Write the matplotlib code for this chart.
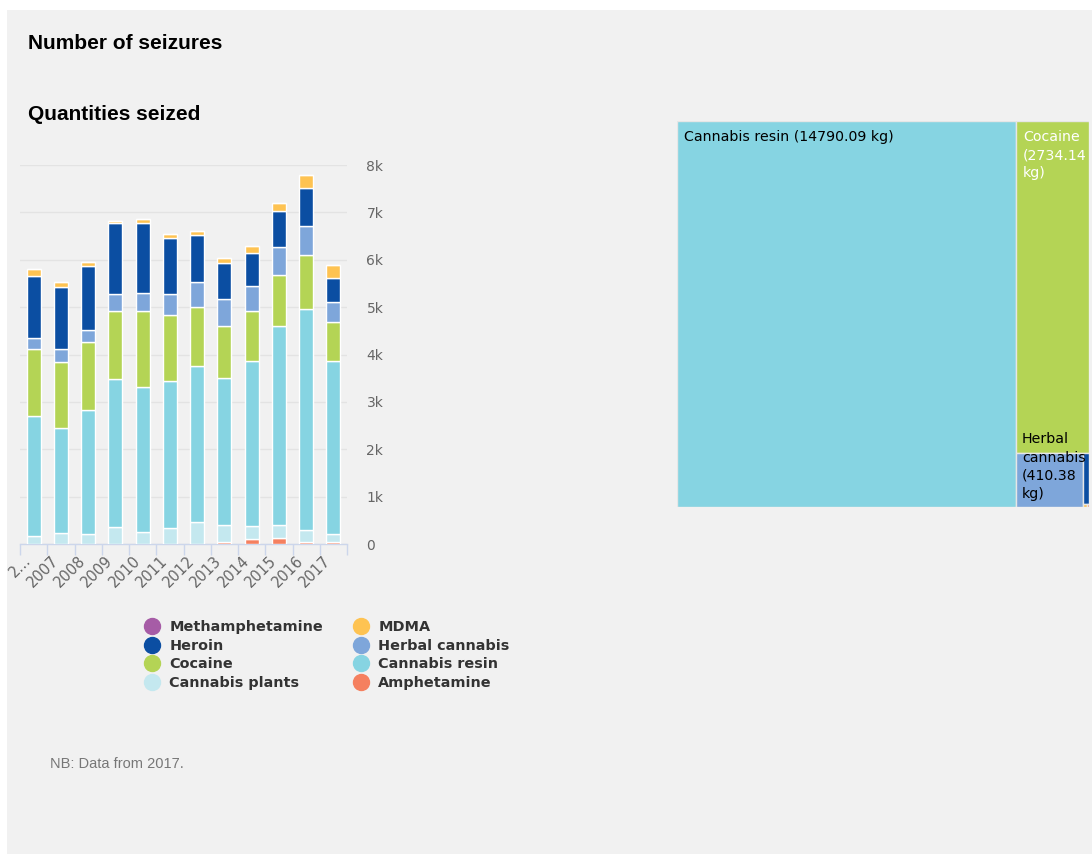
import textwrap

import numpy as np
import matplotlib.pyplot as plt
import matplotlib.transforms as mtransforms
from matplotlib.patches import Rectangle
from matplotlib.lines import Line2D

W, H = 1092, 855
BG = "#f1f1f1"

# number of seizures per year, stacked bottom -> top
years = ["2006", "2007", "2008", "2009", "2010", "2011",
         "2012", "2013", "2014", "2015", "2016", "2017"]
x_labels = ["2…", "2007", "2008", "2009", "2010", "2011",
            "2012", "2013", "2014", "2015", "2016", "2017"]
amphetamine = [0, 0, 0, 0, 0, 0, 0, 45, 95, 125, 50, 50]
cannabis_plants = [175, 232, 211, 352, 260, 344, 458, 360, 285, 282, 245, 161]
cannabis_resin = [2532, 2222, 2616, 3123, 3046, 3101, 3297, 3095, 3487, 4192, 4669, 3656]
cocaine = [1407, 1386, 1435, 1434, 1603, 1386, 1239, 1097, 1049, 1076, 1133, 823]
herbal_cannabis = [238, 274, 246, 365, 393, 443, 540, 570, 533, 591, 618, 422]
heroin = [1308, 1302, 1357, 1498, 1470, 1182, 979, 774, 697, 759, 789, 500]
mdma = [142, 105, 84, 49, 78, 84, 84, 91, 141, 163, 281, 280]
methamphetamine = [0, 0, 0, 0, 0, 0, 0, 0, 0, 0, 0, 0]

y_ticks = [0, 1000, 2000, 3000, 4000, 5000, 6000, 7000, 8000]
y_tick_labels = ["0", "1k", "2k", "3k", "4k", "5k", "6k", "7k", "8k"]

colors = {
    "Methamphetamine": "#a65ca6",
    "MDMA": "#fec352",
    "Heroin": "#0b4ea2",
    "Herbal cannabis": "#7ea6da",
    "Cocaine": "#b4d455",
    "Cannabis resin": "#86d4e2",
    "Cannabis plants": "#c4e8ef",
    "Amphetamine": "#f5805f",
}

stack = [
    ("Amphetamine", amphetamine),
    ("Cannabis plants", cannabis_plants),
    ("Cannabis resin", cannabis_resin),
    ("Cocaine", cocaine),
    ("Herbal cannabis", herbal_cannabis),
    ("Heroin", heroin),
    ("MDMA", mdma),
    ("Methamphetamine", methamphetamine),
]

legend_order = ["Methamphetamine", "Heroin", "Cocaine", "Cannabis plants",
                "MDMA", "Herbal cannabis", "Cannabis resin", "Amphetamine"]

# quantities seized in 2017 (kg)
tm_names = ["Cannabis resin", "Cocaine", "Herbal cannabis", "Heroin",
            "MDMA", "Amphetamine"]
tm_values = [14790.09, 2734.14, 410.38, 35.71, 1.24, 0.82]
tm_text_colors = {"Cocaine": "white"}


def px_box(left, top, right, bottom):
    return [left / W, 1 - bottom / H, (right - left) / W, (bottom - top) / H]


def worst(row, side):
    s = sum(row)
    return max(max(side * side * r / (s * s), (s * s) / (side * side * r)) for r in row)


def squarify(areas, x, y, w, h):
    rects = []
    vals = list(areas)
    while vals:
        side = min(w, h)
        row = [vals[0]]
        i = 1
        while i < len(vals) and worst(row + [vals[i]], side) <= worst(row, side):
            row.append(vals[i])
            i += 1
        s = sum(row)
        if w >= h:
            cw = s / h
            yy = y
            for v in row:
                rects.append((x, yy, cw, v / cw))
                yy += v / cw
            x += cw
            w -= cw
        else:
            rh = s / w
            xx = x
            for v in row:
                rects.append((xx, y, v / rh, rh))
                xx += v / rh
            y += rh
            h -= rh
        vals = vals[i:]
    return rects


fig = plt.figure(figsize=(W / 100, H / 100), dpi=100, facecolor="white")
fig.patches.append(Rectangle((7 / W, 1 / H), 1, 1 - 11 / H, transform=fig.transFigure,
                             facecolor=BG, edgecolor="none", zorder=-10))

title_font = dict(family="Liberation Sans", weight="bold", size=15, color="black")
fig.text(28 / W, 1 - 49 / H, "Number of seizures", va="baseline", **title_font)
fig.text(28 / W, 1 - 120 / H, "Quantities seized", va="baseline", **title_font)
fig.text(50 / W, 1 - 764 / H, "NB: Data from 2017.", va="center",
         family="Liberation Sans", size=10.5, color="#777777")

# stacked columns
ax = fig.add_axes(px_box(20, 165, 347, 544))
ax.set_facecolor("none")
x = np.arange(len(years))
bottom = np.zeros(len(years))
for name, vals in stack:
    vals = np.array(vals, dtype=float)
    ax.bar(x, vals, bottom=bottom, width=0.52, color=colors[name],
           edgecolor="white", linewidth=1, zorder=3)
    bottom += vals

ax.set_xlim(-0.5, len(years) - 0.5)
ax.set_ylim(0, 8000)
ax.set_yticks(y_ticks)
ax.set_yticklabels(y_tick_labels)
ax.yaxis.tick_right()
ax.tick_params(axis="y", length=0, pad=14, labelsize=10, labelcolor="#666666")
ax.grid(axis="y", color="#e3e3e3", linewidth=1, zorder=0)
ax.set_xticks(x)
ax.set_xticklabels(x_labels, rotation=45, ha="right", va="center",
                   rotation_mode="anchor")
ax.tick_params(axis="x", which="major", length=0, pad=8, labelsize=10.5,
               labelcolor="#666666")
# nudge the slanted year labels so they end under their column
shift = mtransforms.ScaledTranslation(-5 / 100, -3 / 100, fig.dpi_scale_trans)
for lbl in ax.get_xticklabels():
    lbl.set_transform(lbl.get_transform() + shift)
ax.set_xticks(np.arange(-0.5, len(years)), minor=True)
ax.tick_params(axis="x", which="minor", length=8, width=1, color="#ccd6eb")
for side in ["top", "right", "left"]:
    ax.spines[side].set_visible(False)
ax.spines["bottom"].set_color("#ccd6eb")
ax.spines["bottom"].set_linewidth(1)

handles = [Line2D([], [], marker="o", linestyle="", markersize=11.5,
                  markerfacecolor=colors[n], markeredgecolor=colors[n])
           for n in legend_order]
fig.legend(handles, legend_order, ncol=2, loc="upper left",
           bbox_to_anchor=(145 / W, 1 - 620 / H), frameon=False,
           prop=dict(family="DejaVu Sans", weight="bold", size=10.4),
           labelcolor="#333333", handlelength=1.0, handletextpad=0.68,
           columnspacing=2.15, labelspacing=0.32, borderpad=0, borderaxespad=0)

# treemap of 2017 quantities
tl, tt, tw, th = 677, 121, 412, 386
ax2 = fig.add_axes(px_box(tl, tt, tl + tw, tt + th))
ax2.set_xlim(0, tw)
ax2.set_ylim(th, 0)
ax2.axis("off")
total = sum(tm_values)
areas = [v / total * tw * th for v in tm_values]
for name, val, (cx, cy, cw, ch) in zip(tm_names, tm_values, squarify(areas, 0, 0, tw, th)):
    ax2.add_patch(Rectangle((cx, cy), cw, ch, facecolor=colors[name],
                            edgecolor="#e6e6e6", linewidth=1))
    if cw < 30 or ch < 30:
        continue
    label = f"{name} ({val:.2f} kg)"
    lines = textwrap.wrap(label, width=max(1, int(cw / 8)), break_long_words=False)
    txt = "\n".join(lines)
    tc = tm_text_colors.get(name, "black")
    if len(lines) * 19 + 10 > ch:
        ax2.text(cx + 6, cy + ch - 6, txt, va="bottom", ha="left", color=tc,
                 size=10.2, family="DejaVu Sans", linespacing=1.38)
    else:
        ax2.text(cx + 7, cy + 9, txt, va="top", ha="left", color=tc,
                 size=10.2, family="DejaVu Sans", linespacing=1.38)

fig.savefig("out.png", dpi=100, facecolor="white")
